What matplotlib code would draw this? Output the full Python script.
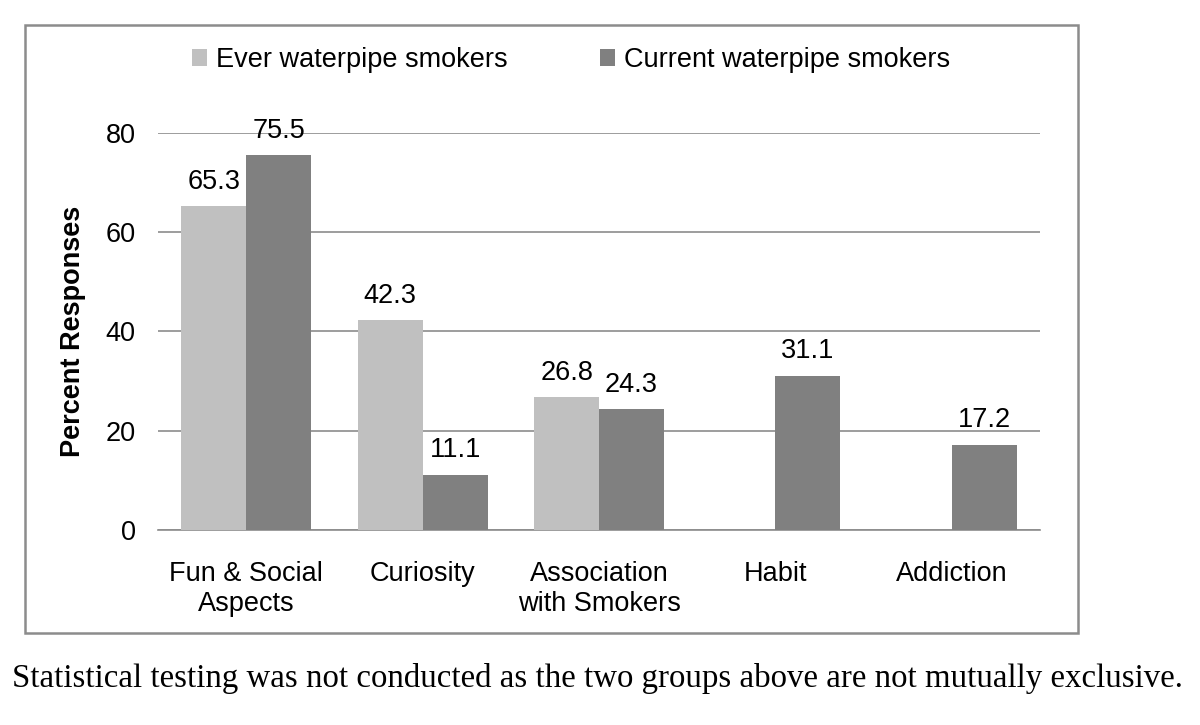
import numpy as np
import matplotlib.pyplot as plt
from matplotlib.patches import Rectangle

# data
categories = ["Fun & Social\nAspects", "Curiosity", "Association\nwith Smokers", "Habit", "Addiction"]
ever_vals = [65.3, 42.3, 26.8, None, None]
current_vals = [75.5, 11.1, 24.3, 31.1, 17.2]
series_names = ["Ever waterpipe smokers", "Current waterpipe smokers"]
yticks = [0, 20, 40, 60, 80]
footnote = "Statistical testing was not conducted as the two groups above are not mutually exclusive."

plt.rcParams['font.family'] = ['Liberation Sans', 'DejaVu Sans']

fig = plt.figure(figsize=(12, 7.25), dpi=100)
ax = fig.add_axes([0.1317, 0.269, 0.735, 0.5476])

x = np.arange(len(categories))
w = 0.368
light = "#c0c0c0"
dark = "#808080"
fs = 19.5

ev = [v if v is not None else 0 for v in ever_vals]
b1 = ax.bar(x - w / 2, ev, w, color=light, label=series_names[0], zorder=3)
b2 = ax.bar(x + w / 2, current_vals, w, color=dark, label=series_names[1], zorder=3)

for xi, v in zip(x, ever_vals):
    if v is not None:
        ax.text(xi - w / 2, v + 2.3, f"{v}", ha="center", va="bottom", fontsize=fs, clip_on=False)
for xi, v in zip(x, current_vals):
    ax.text(xi + w / 2, v + 2.3, f"{v}", ha="center", va="bottom", fontsize=fs, clip_on=False)

ax.set_xlim(-0.5, len(categories) - 0.5)
ax.set_ylim(0, 80)
ax.set_yticks(yticks)
ax.yaxis.grid(True, color="#8c8c8c", linewidth=1.2, zorder=0)
ax.set_axisbelow(True)
for s in ["top", "right", "left"]:
    ax.spines[s].set_visible(False)
ax.spines["bottom"].set_color("#8c8c8c")
ax.spines["bottom"].set_linewidth(1.2)
ax.tick_params(axis="both", length=0, labelsize=fs)
ax.tick_params(axis="y", pad=16)
ax.tick_params(axis="x", pad=22)
ax.set_xticks(x)
ax.set_xticklabels(categories, linespacing=1.2)
ax.set_ylabel("Percent Responses", fontsize=fs, fontweight="bold", labelpad=14)

leg = fig.legend(handles=[b1, b2], loc="center", bbox_to_anchor=(0.476, 0.917), ncol=2,
                 frameon=False, fontsize=fs, handlelength=0.55, handleheight=0.55,
                 handletextpad=0.35, columnspacing=3.4)

# outer box
fig.add_artist(Rectangle((25 / 1200, 1 - 633 / 725), (1078 - 25) / 1200, (633 - 25) / 725,
                         transform=fig.transFigure, fill=False, edgecolor="#8c8c8c", linewidth=1.8))

fig.text(12 / 1200, 1 - 678 / 725, footnote, family=["Liberation Serif", "DejaVu Serif"],
         fontsize=23.7, ha="left", va="center")

fig.savefig("out.png", dpi=100, facecolor="white")
